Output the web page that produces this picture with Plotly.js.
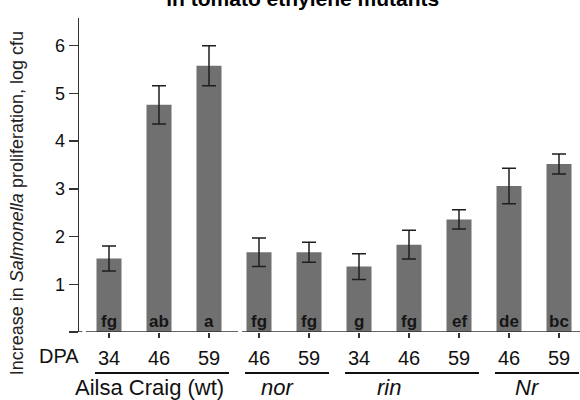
<!DOCTYPE html>
<html>
<head>
<meta charset="utf-8">
<script src="https://cdn.plot.ly/plotly-3.0.1.min.js"></script>
<style>html,body{margin:0;padding:0;background:#fff;}#chart{width:580px;height:400px;}</style>
</head>
<body>
<div id="chart"></div>
<script>
// ---- data ----
var dpaLabels = ['34','46','59','46','59','34','46','59','46','59'];
var meanIncrease = [1.54, 4.76, 5.58, 1.67, 1.67, 1.37, 1.83, 2.36, 3.06, 3.52];
var errIncrease = [0.26, 0.40, 0.42, 0.30, 0.21, 0.27, 0.30, 0.20, 0.37, 0.21];
var sigLetters = ['fg','ab','a','fg','fg','g','fg','ef','de','bc'];
var groupNames = ['Ailsa Craig (wt)', '<i>nor</i>', '<i>rin</i>', '<i>Nr</i>'];
var groupOfBar = [0,0,0,1,1,2,2,2,3,3];
var yTickVals = [0,1,2,3,4,5,6];
var yTickText = ['','1','2','3','4','5','6'];

// ---- build ----
var FONT = 'Liberation Sans, Arial, sans-serif';
var xIdx = dpaLabels.map(function(_, i){ return i; });
var XMIN = -0.6, XMAX = 9.42;

var trace = {
  type: 'bar',
  x: xIdx,
  y: meanIncrease,
  width: 0.5,
  marker: {color: '#707070', line: {width: 0}},
  error_y: {type: 'data', array: errIncrease, visible: true, color: '#1e1e1e', thickness: 1.5, width: 7},
  hoverinfo: 'none'
};

var annotations = [];
sigLetters.forEach(function(t, i){
  annotations.push({x: i, y: 0, xref: 'x', yref: 'y', text: '<b>' + t + '</b>', showarrow: false,
    yanchor: 'bottom', yshift: -1, font: {family: FONT, size: 17, color: '#151515'}});
});

// group extents
var shapes = [];
var labelShift = [-10, -7, -20, -7];
groupNames.forEach(function(g, gi){
  var idx = xIdx.filter(function(i){ return groupOfBar[i] === gi; });
  var first = Math.min.apply(null, idx), last = Math.max.apply(null, idx);
  var x0 = first - 0.28, x1 = Math.min(last + 0.4, XMAX);
  shapes.push({type: 'line', xref: 'x', yref: 'paper', x0: x0, x1: x1, y0: -0.1307, y1: -0.1307,
    line: {color: '#111', width: 2}});
  annotations.push({x: (first + last) / 2, xref: 'x', y: -0.177, yref: 'paper', text: g, showarrow: false,
    xshift: labelShift[gi], yanchor: 'middle', font: {family: FONT, size: 22, color: '#111'}});
});

// broken baseline
shapes.push({type: 'line', xref: 'x', yref: 'y', x0: -0.46, x1: 2.58, y0: 0, y1: 0, line: {color: '#333', width: 1.5}});
shapes.push({type: 'line', xref: 'x', yref: 'y', x0: 2.66, x1: XMAX, y0: 0, y1: 0, line: {color: '#333', width: 1.5}});
shapes.push({type: 'line', xref: 'x', yref: 'y', x0: XMIN, x1: -0.53, y0: 0, y1: 0, line: {color: '#333', width: 1.5}});

annotations.push({x: 0.004, xref: 'paper', y: -0.075, yref: 'paper', text: 'DPA', showarrow: false,
  xanchor: 'right', yanchor: 'middle', font: {family: FONT, size: 20, color: '#111'}});
annotations.push({x: -0.1238, xref: 'paper', y: 0.41, yref: 'paper', textangle: -90, showarrow: false,
  text: 'Increase in <i>Salmonella</i> proliferation, log cfu', xanchor: 'center', yanchor: 'middle',
  font: {family: FONT, size: 18, color: '#222'}});

var layout = {
  width: 580, height: 400,
  margin: {l: 79, r: 0, t: 18, b: 68.3, pad: 0},
  paper_bgcolor: '#fff', plot_bgcolor: '#fff',
  showlegend: false,
  title: {text: '<b>in tomato ethylene mutants</b>', x: 0.522, xanchor: 'center', y: 0.985, yanchor: 'bottom',
    yref: 'container', font: {family: FONT, size: 21, color: '#000'}},
  xaxis: {range: [XMIN, XMAX], tickvals: xIdx, ticktext: dpaLabels, ticks: 'outside', ticklen: 5,
    tickwidth: 1.5, tickcolor: '#333', showline: false, showgrid: false, zeroline: false,
    ticklabelstandoff: 3, tickfont: {family: FONT, size: 20, color: '#111'}, fixedrange: true},
  yaxis: {range: [0, 6.58], tickvals: yTickVals, ticktext: yTickText, ticks: 'outside', ticklen: 9,
    tickwidth: 1.5, tickcolor: '#333', showline: true, linecolor: '#333', linewidth: 1.5,
    showgrid: false, zeroline: false, tickfont: {family: FONT, size: 18, color: '#111'}, fixedrange: true},
  shapes: shapes,
  annotations: annotations
};

Plotly.newPlot('chart', [trace], layout, {displayModeBar: false, staticPlot: true});
</script>
</body>
</html>
